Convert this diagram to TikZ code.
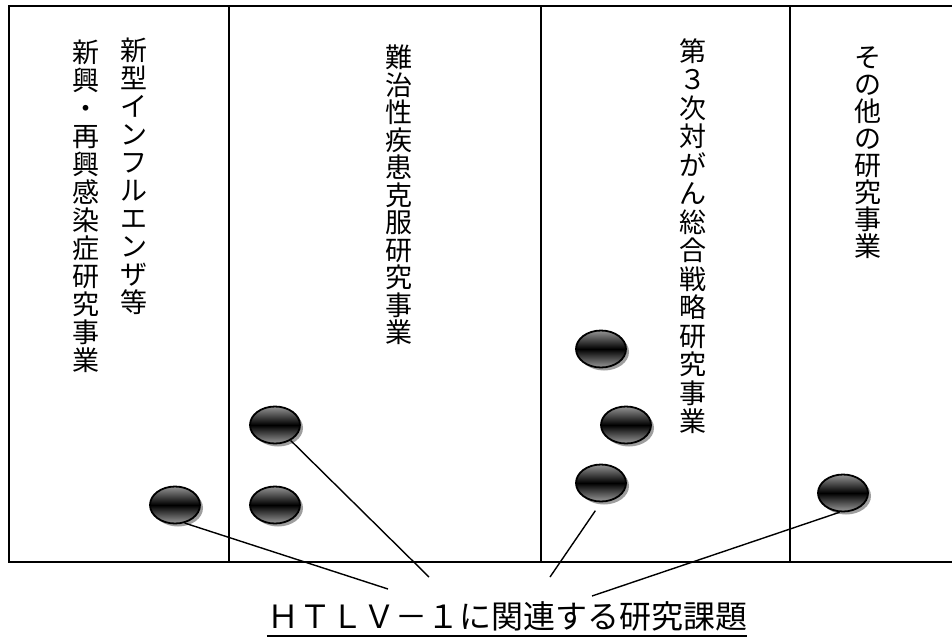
\documentclass[tikz,border=0pt]{standalone}
\usepackage{fontspec}
\newfontfamily\cjk{Noto Sans CJK JP}
\usetikzlibrary{shapes.geometric,shadows}
\begin{document}
\begin{tikzpicture}[x=1pt,y=-1pt,
  frame/.style={line width=2.2pt, line join=miter},
  divider/.style={line width=1.8pt},
  vcol/.style={anchor=north, inner sep=0pt, align=center, font=\cjk\fontsize{27}{28}\selectfont},
  ttl/.style={anchor=base, inner sep=0pt, font=\cjk\fontsize{32}{36}\selectfont},
  uline/.style={line width=1.8pt},
  ball/.style={ellipse, minimum width=50pt, minimum height=37pt, inner sep=0pt,
    draw=black, line width=1.8pt,
    top color=black!42, bottom color=black!40, middle color=black,
    drop shadow={shadow xshift=3pt, shadow yshift=-3pt, fill=black!38, opacity=1}},
  link/.style={line width=1.4pt}]
\useasboundingbox (0,0) rectangle (952,641);
% frame and columns
\draw[frame] (952,6) -- (9,6) -- (9,562) -- (952,562);
\draw[divider] (229,6) -- (229,562);
\draw[divider] (541,6) -- (541,562);
\draw[divider] (790,6) -- (790,562);
% column titles
\node[vcol] (c1a) at (134,38) {新\\型\\イ\\ン\\フ\\ル\\エ\\ン\\ザ\\等};
\node[vcol] (c1b) at (86,40) {新\\興\\・\\再\\興\\感\\染\\症\\研\\究\\事\\業};
\node[vcol, font=\cjk\fontsize{27}{27.5}\selectfont] (c2) at (399,45) {難\\治\\性\\疾\\患\\克\\服\\研\\究\\事\\業};
\node[vcol, font=\cjk\fontsize{27}{28.5}\selectfont] (c3) at (693,38) {第\\３\\次\\対\\が\\ん\\総\\合\\戦\\略\\研\\究\\事\\業};
\node[vcol, font=\cjk\fontsize{27}{27}\selectfont] (c4) at (868,47) {そ\\の\\他\\の\\研\\究\\事\\業};
% balls
\node[ball] (e1) at (175,505) {};
\node[ball] (e2) at (275,425) {};
\node[ball] (e3) at (275,505) {};
\node[ball] (e4) at (601,349) {};
\node[ball] (e5) at (626,425) {};
\node[ball] (e6) at (601,483) {};
\node[ball] (e7) at (843,493) {};
% title
\node[ttl] (title) at (507,628) {ＨＴＬＶ－１に関連する研究課題};
\draw[uline] ([yshift=-8pt]title.base west) -- ([yshift=-8pt]title.base east);
% link ends
\coordinate (j1) at (388,589);
\coordinate (j2) at (429,577);
\coordinate (j3) at (550,577);
\coordinate (j4) at (592,596);
\draw[link] (e1.-62) -- (j1);
\draw[link] (e2) -- (j2);
\draw[link, shorten <=10pt] (e6.south) -- (j3);
\draw[link] (e7.-100) -- (j4);
\end{tikzpicture}
\end{document}
